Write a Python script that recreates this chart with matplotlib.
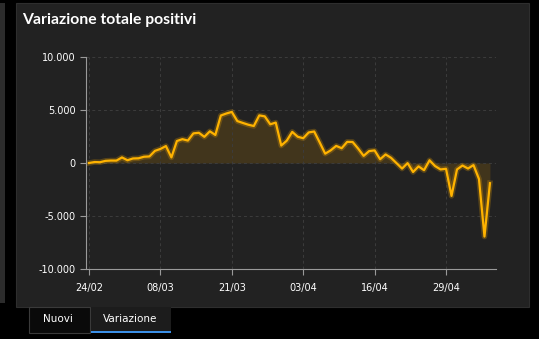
import matplotlib
matplotlib.use("Agg")
import matplotlib.pyplot as plt
import matplotlib.patches as patches
from matplotlib.ticker import FuncFormatter
import numpy as np

# daily change of currently positive cases, 24/02 .. 07/05
giorni = np.arange(74)
variazione = [
    0, 90, 74, 203, 233, 228, 528, 258, 428, 443, 590, 620, 1145, 1326,
    1598, 529, 2076, 2249, 2116, 2795, 2853, 2470, 2989, 2648, 4480, 4670,
    4821, 3957, 3780, 3612, 3491, 4492, 4401, 3651, 3815, 1648, 2107, 2937,
    2477, 2339, 2886, 2972, 1941, 880, 1195, 1615, 1396, 1996, 1984, 1363,
    675, 1127, 1189, 355, 809, 486, -20, -528, -10, -851, -321, -680, 256,
    -290, -608, -548, -3106, -608, -239, -525, -199, -1513, -6939, -1904,
]
tick_pos = [0, 13, 26, 39, 52, 65]
tick_labels = ["24/02", "08/03", "21/03", "03/04", "16/04", "29/04"]
y_ticks = [-10000, -5000, 0, 5000, 10000]

W, H = 539, 339
fig = plt.figure(figsize=(W / 100, H / 100), dpi=100, facecolor="#000000")


def px(x0, y0, w, h):
    # pixel box (top-left origin) -> figure fraction
    return [x0 / W, 1 - (y0 + h) / H, w / W, h / H]


def box(x0, y0, w, h, **kw):
    fig.patches.append(patches.Rectangle((x0 / W, 1 - (y0 + h) / H), w / W, h / H,
                                         transform=fig.transFigure, zorder=-5, **kw))


# side strip of the neighbouring panel
box(0, 3, 5, 300, facecolor="#2c2c2c", edgecolor="none")
# card background
box(16, 3, 513, 304, facecolor="#222222", edgecolor="#2e2e2e", linewidth=0.8)
fig.text(22 / W, 1 - 20 / H, "Variazione totale positivi", color="white",
         fontsize=11.3, fontweight="bold", va="center", ha="left", family="Lato")

# tabs under the card
box(29, 307, 61, 26, facecolor="#0a0a0a", edgecolor="#3a3a3a", linewidth=0.8)
box(91, 307, 80, 26, facecolor="#1c1c1c", edgecolor="none")
box(91, 331, 80, 2, facecolor="#3a8ee6", edgecolor="none")
fig.text(58 / W, 1 - 319 / H, "Nuovi", color="white", fontsize=7.5, ha="center", va="center")
fig.text(130 / W, 1 - 319 / H, "Variazione", color="white", fontsize=7.5, ha="center", va="center")

ax = fig.add_axes(px(86, 57, 410, 212))
ax.set_facecolor("none")

ax.fill_between(giorni, variazione, 0, color="#f5a800", alpha=0.15, linewidth=0)
ax.plot(giorni, variazione, color="#f5a800", linewidth=4, alpha=0.25, solid_joinstyle="round")
ax.plot(giorni, variazione, color="#ffb300", linewidth=1.6, solid_joinstyle="round")

ax.set_xlim(-0.55, 74.1)
ax.set_ylim(-10000, 10000)
ax.set_xticks(tick_pos)
ax.set_xticklabels(tick_labels)
ax.set_yticks(y_ticks)
ax.yaxis.set_major_formatter(FuncFormatter(lambda v, p: f"{int(v):,}".replace(",", ".")))

ax.grid(True, color="#3c3c3c", linestyle=(0, (3, 3)), linewidth=0.7)
for side in ("top", "right"):
    ax.spines[side].set_visible(False)
for side in ("left", "bottom"):
    ax.spines[side].set_color("#9a9a9a")
    ax.spines[side].set_linewidth(0.8)
ax.tick_params(colors="#9a9a9a", labelcolor="white", labelsize=7, length=4, width=0.8)
ax.tick_params(axis="x", pad=6)

fig.savefig("out.png", dpi=100, facecolor=fig.get_facecolor())
